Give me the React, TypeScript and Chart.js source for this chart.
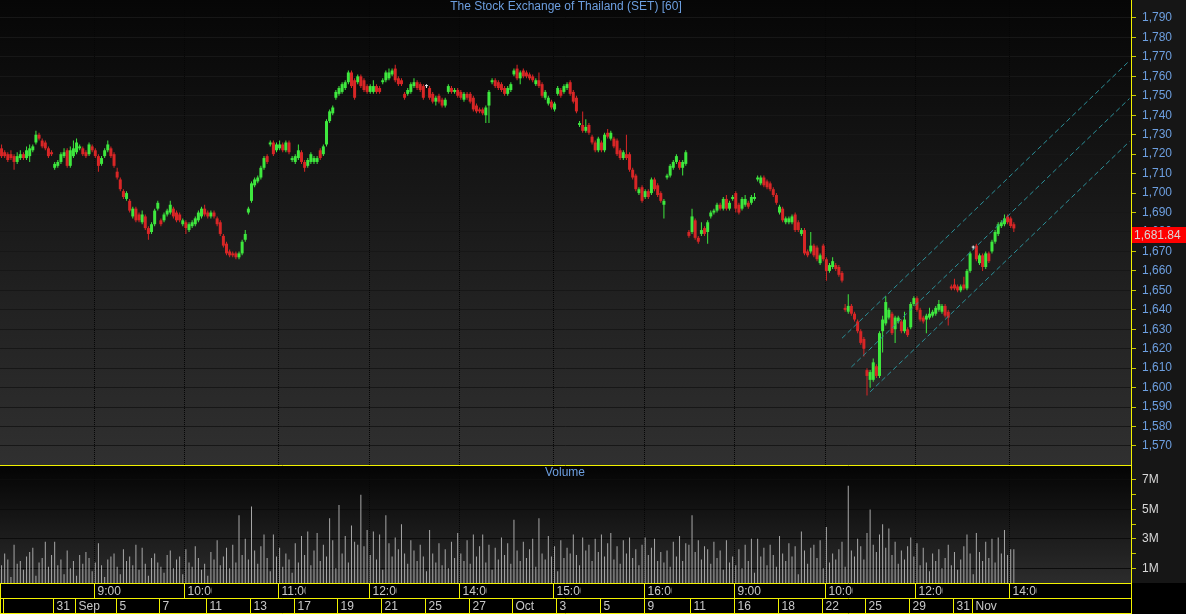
import React, { useEffect, useRef } from "react";
import { Chart, registerables } from "chart.js";

Chart.register(...registerables);

const FONT = '"Liberation Sans", Arial, sans-serif';
const TITLE = "The Stock Exchange of Thailand (SET) [60]";
const VOLUME_TITLE = "Volume";
const TOTAL_SLOTS = 362;
const PRICE_MIN = 1560.23;
const PRICE_MAX = 1799.25;
const VOL_MAX = 7.95;
const LAST_PRICE = 1681.84;
const LAST_PRICE_LABEL = "1,681.84";

const opens = [
  1723,1721,1720,1720,1719,1716,1718,1720,1718,1719,
  1722,1726,1730,1727,1726,1723,1721,1713,1714,1716,
  1719,1722,1714,1719,1721,1723,1723,1721,1720,1724,
  1722,1719,1715,1719,1722,1723,1720,1711,1707,1701,
  1697,1696,1688,1692,1689,1685,1688,1682,1680,1684,
  1692,1686,1686,1689,1690,1692,1690,1689,1684,1685,
  1681,1683,1684,1686,1688,1692,1690,1688,1690,1687,
  1685,1678,1674,1670,1669,1669,1667,1669,1676,1690,
  1696,1704,1706,1708,1713,1719,1725,1726,1722,1723,
  1725,1722,1726,1717,1716,1718,1721,1716,1714,1716,
  1716,1716,1722,1720,1725,1737,1741,1749,1751,1752,
  1754,1757,1762,1758,1757,1760,1758,1755,1752,1752,
  1755,1754,1757,1758,1759,1761,1764,1759,1758,1751,
  1751,1752,1755,1757,1756,1755,1755,1754,1751,1747,
  1750,1748,1745,1752,1754,1752,1753,1752,1748,1751,
  1751,1749,1745,1743,1743,1740,1745,1757,1758,1757,
  1756,1754,1751,1753,1761,1764,1759,1763,1762,1761,
  1760,1756,1758,1756,1749,1746,1747,1743,1751,1753,
  1752,1754,1757,1752,1749,1735,1735,1732,1735,1729,
  1726,1722,1726,1722,1731,1728,1728,1727,1722,1718,
  1720,1720,1712,1709,1700,1703,1698,1701,1700,1707,
  1704,1700,1694,1708,1709,1713,1716,1716,1713,1715,
  1680,1680,1686,1677,1679,1682,1680,1688,1690,1691,
  1694,1692,1697,1692,1697,1700,1694,1692,1694,1695,
  1695,1697,1707,1705,1708,1706,1705,1702,1699,1690,
  1692,1685,1685,1685,1689,1685,1679,1681,1670,1670,
  1673,1672,1664,1673,1666,1660,1662,1663,1662,1659,
  1641,1639,1642,1638,1634,1629,1625,1609,1604,1604,
  1611,1606,1629,1633,1636,1638,1630,1634,1634,1629,
  1630,1631,1643,1646,1640,1636,1635,1636,1637,1638,
  1640,1639,1642,1639,1652,1653,1652,1650,1653,1651,
  1660,1672,1673,1664,1668,1662,1669,1670,1675,1679,
  1683,1684,1688,1687,1684,
];

const highs = [
  1725,1722,1721,1722,1720,1721,1722,1721,1724,1725,
  1725,1732,1731,1728,1727,1724,1722,1716,1717,1721,
  1723,1723,1724,1727,1728,1725,1724,1722,1726,1725,
  1723,1720,1719,1723,1727,1724,1721,1713,1708,1702,
  1701,1697,1693,1693,1690,1691,1689,1683,1685,1692,
  1696,1687,1690,1692,1696,1693,1691,1690,1687,1686,
  1685,1686,1688,1691,1693,1694,1691,1691,1691,1688,
  1686,1679,1675,1671,1670,1670,1670,1676,1681,1693,
  1706,1708,1709,1714,1719,1720,1727,1727,1726,1727,
  1726,1727,1727,1719,1720,1725,1722,1717,1718,1721,
  1719,1719,1723,1725,1738,1743,1745,1753,1755,1757,
  1758,1763,1763,1759,1761,1761,1759,1756,1756,1758,
  1756,1755,1759,1763,1764,1764,1766,1760,1759,1752,
  1754,1757,1759,1758,1757,1756,1756,1755,1752,1750,
  1751,1749,1749,1756,1755,1754,1754,1753,1752,1752,
  1752,1750,1746,1744,1744,1745,1753,1759,1759,1758,
  1757,1755,1755,1757,1764,1766,1763,1764,1763,1762,
  1761,1759,1762,1757,1753,1750,1748,1747,1755,1754,
  1756,1757,1758,1753,1750,1737,1742,1738,1736,1730,
  1727,1729,1727,1731,1733,1732,1729,1728,1723,1722,
  1730,1721,1713,1710,1703,1704,1702,1702,1708,1708,
  1705,1701,1697,1710,1715,1717,1720,1717,1717,1722,
  1681,1692,1687,1678,1685,1683,1686,1691,1692,1695,
  1695,1698,1699,1696,1699,1701,1695,1698,1699,1696,
  1699,1700,1709,1709,1709,1707,1706,1703,1700,1694,
  1693,1688,1688,1689,1690,1686,1682,1682,1671,1680,
  1674,1673,1669,1674,1667,1664,1667,1664,1663,1660,
  1643,1648,1643,1639,1635,1630,1626,1610,1609,1615,
  1612,1629,1637,1647,1641,1639,1637,1637,1635,1639,
  1631,1644,1647,1647,1641,1637,1638,1641,1640,1642,
  1645,1643,1643,1640,1653,1656,1653,1653,1657,1661,
  1670,1673,1674,1669,1669,1670,1670,1676,1681,1685,
  1686,1689,1689,1688,1685,
];

const lows = [
  1718,1718,1716,1717,1712,1715,1717,1717,1717,1716,
  1721,1725,1727,1723,1722,1718,1719,1712,1713,1715,
  1718,1713,1713,1718,1720,1722,1719,1718,1719,1721,
  1718,1711,1714,1718,1721,1718,1713,1707,1701,1697,
  1696,1690,1687,1685,1685,1684,1681,1676,1679,1683,
  1691,1683,1685,1688,1689,1687,1685,1685,1683,1679,
  1680,1682,1683,1685,1687,1688,1687,1687,1687,1683,
  1678,1672,1668,1667,1667,1666,1666,1668,1675,1689,
  1695,1703,1705,1707,1712,1715,1724,1719,1721,1722,
  1721,1721,1720,1716,1715,1717,1715,1711,1713,1715,
  1715,1715,1717,1719,1724,1736,1740,1748,1750,1751,
  1753,1756,1754,1748,1756,1754,1752,1751,1751,1751,
  1751,1751,1756,1757,1758,1760,1757,1755,1755,1748,
  1750,1751,1754,1753,1752,1748,1754,1748,1746,1745,
  1746,1744,1744,1751,1751,1751,1749,1748,1747,1748,
  1746,1742,1741,1741,1740,1736,1736,1756,1754,1753,
  1752,1750,1750,1752,1760,1758,1756,1759,1759,1758,
  1757,1755,1754,1749,1748,1745,1743,1742,1750,1749,
  1751,1753,1750,1746,1741,1734,1731,1731,1730,1725,
  1721,1721,1721,1721,1728,1727,1723,1719,1717,1717,
  1717,1711,1707,1701,1699,1695,1697,1697,1699,1701,
  1698,1695,1687,1707,1708,1712,1715,1712,1709,1714,
  1677,1679,1676,1674,1678,1678,1674,1687,1689,1690,
  1691,1691,1691,1691,1696,1690,1689,1691,1693,1692,
  1694,1696,1706,1704,1703,1702,1701,1698,1694,1689,
  1685,1684,1684,1684,1680,1680,1678,1668,1667,1669,
  1667,1665,1663,1665,1655,1659,1661,1660,1657,1654,
  1639,1638,1637,1634,1628,1622,1616,1596,1600,1603,
  1605,1605,1618,1632,1635,1627,1623,1633,1628,1628,
  1626,1630,1642,1639,1634,1633,1628,1635,1636,1637,
  1639,1638,1636,1632,1650,1650,1649,1649,1650,1650,
  1659,1671,1665,1663,1660,1661,1664,1669,1674,1678,
  1682,1683,1684,1682,1680,
];

const closes = [
  1719,1719,1717,1718,1716,1719,1720,1718,1722,1723,
  1724,1730,1728,1724,1723,1719,1720,1715,1716,1720,
  1721,1714,1722,1723,1726,1724,1720,1719,1725,1722,
  1719,1714,1718,1722,1725,1719,1714,1708,1702,1698,
  1700,1691,1692,1686,1686,1689,1682,1679,1684,1691,
  1695,1684,1689,1691,1694,1688,1686,1686,1686,1682,
  1684,1685,1687,1690,1692,1689,1688,1690,1688,1684,
  1679,1673,1669,1668,1668,1667,1669,1675,1679,1692,
  1705,1707,1708,1713,1718,1716,1726,1720,1725,1725,
  1722,1726,1721,1718,1719,1722,1716,1713,1717,1720,
  1718,1718,1718,1724,1737,1742,1744,1752,1754,1756,
  1757,1762,1755,1749,1760,1755,1753,1752,1755,1755,
  1752,1752,1758,1762,1762,1763,1758,1756,1756,1749,
  1753,1756,1757,1754,1753,1749,1755,1749,1747,1749,
  1747,1745,1748,1755,1752,1753,1750,1749,1751,1749,
  1747,1743,1742,1742,1741,1744,1752,1758,1755,1754,
  1753,1751,1754,1756,1763,1759,1762,1760,1760,1759,
  1758,1758,1755,1750,1752,1749,1744,1746,1754,1750,
  1755,1756,1751,1747,1742,1736,1732,1734,1731,1726,
  1722,1728,1722,1730,1729,1731,1724,1720,1718,1721,
  1718,1712,1708,1702,1702,1696,1701,1698,1707,1702,
  1699,1696,1696,1709,1714,1716,1719,1713,1716,1721,
  1678,1688,1677,1675,1681,1679,1685,1690,1691,1694,
  1692,1697,1692,1695,1698,1692,1690,1697,1697,1693,
  1698,1698,1708,1708,1704,1703,1702,1699,1695,1693,
  1686,1687,1687,1688,1681,1681,1681,1669,1668,1673,
  1668,1666,1668,1666,1660,1663,1665,1661,1658,1655,
  1640,1642,1638,1635,1629,1623,1620,1606,1608,1613,
  1606,1628,1635,1644,1640,1628,1636,1636,1629,1635,
  1627,1643,1646,1640,1635,1634,1637,1638,1639,1641,
  1643,1642,1637,1636,1651,1651,1650,1652,1651,1660,
  1669,1672,1666,1668,1662,1669,1665,1675,1680,1684,
  1685,1687,1685,1683,1681.84,
];

// volume in millions of shares
const volumes = [
  1.2,2.0,1.6,0.4,2.6,1.3,1.5,0.9,1.8,2.1,2.4,0.5,1.4,1.7,2.8,1.1,1.9,
  2.8,1.2,1.6,0.6,2.2,1.0,1.5,
  0.5,1.9,1.3,2.1,1.7,0.8,1.4,
  2.7,1.2,0.4,1.6,1.8,2.0,1.1,
  0.6,2.3,1.5,1.8,1.2,2.6,0.9,
  2.4,1.3,0.5,1.7,2.0,1.4,1.1,
  0.7,1.9,2.2,1.0,1.6,1.8,0.6,
  2.3,1.4,1.1,2.5,1.7,0.9,1.3,
  0.5,2.1,1.6,2.9,1.2,1.8,2.4,
  1.0,2.6,1.4,4.6,1.9,3.0,1.6,
  5.2,2.2,1.3,2.5,3.3,1.7,0.8,
  3.3,1.8,2.4,1.1,2.0,1.6,0.7,
  2.7,1.4,3.2,1.9,3.5,1.2,2.2,
  3.4,1.5,2.6,1.8,4.4,2.9,1.0,
  5.3,2.0,3.2,1.4,3.9,2.8,2.6,
  6.0,2.5,3.6,1.9,3.5,1.6,3.3,
  0.9,4.6,2.7,1.8,3.1,2.3,4.0,
  2.0,1.3,2.9,2.2,1.5,2.6,1.8,
  0.8,3.6,2.0,1.4,2.7,1.2,2.3,
  1.0,2.8,1.7,3.4,2.0,1.5,2.9,
  1.3,3.3,1.8,2.5,3.3,1.4,2.6,
  0.9,2.4,1.6,3.1,1.9,2.7,1.3,
  4.3,2.2,1.5,2.8,1.7,2.3,3.0,
  1.1,4.4,2.0,1.6,3.2,1.8,2.5,
  0.8,2.9,1.7,2.4,2.0,3.3,1.9,
  1.2,3.1,2.2,2.6,1.5,3.0,2.1,
  3.3,1.8,2.7,3.4,1.6,2.5,1.3,
  2.9,2.0,3.1,1.7,2.3,1.2,2.6,
  3.1,1.9,2.4,3.0,1.5,2.1,1.4,
  2.2,1.1,2.8,1.8,3.2,1.5,2.7,
  2.6,4.6,2.1,2.9,1.6,2.5,2.3,
  1.3,2.8,1.7,2.2,0.9,2.9,1.4,
  1.8,1.2,2.3,1.0,2.6,1.5,3.0,
  0.7,3.0,1.8,2.4,1.2,2.6,1.9,
  1.1,3.2,2.0,1.5,2.7,1.8,2.5,
  0.6,3.5,2.2,1.3,2.4,2.6,1.7,
  2.9,1.0,3.8,1.4,2.0,1.6,2.3,
  2.8,1.1,6.6,2.2,1.8,3.0,2.5,
  1.6,3.4,5.0,2.6,2.1,3.3,4.0,
  2.4,3.7,1.9,2.8,1.3,2.2,1.6,
  2.5,3.1,1.8,2.7,1.2,2.4,1.4,
  0.8,2.0,1.5,2.3,1.0,1.7,2.6,
  1.2,2.1,0.9,1.6,2.5,3.3,2.0,
  0.6,3.4,2.1,1.5,2.8,1.7,3.0,
  1.4,3.1,2.0,3.6,1.9,2.3,2.3,
];

const priceTicks = [
  1570,1580,1590,1600,1610,1620,1630,1640,1650,1660,1670,1680,
  1690,1700,1710,1720,1730,1740,1750,1760,1770,1780,1790,
];
const volumeTicks = [1, 2, 3, 4, 5, 6, 7];
const volumeTickLabels = ["1M", "", "3M", "", "5M", "", "7M"];

const hourLabels = ["9:00","10:00","11:00","12:00","14:00","15:00","16:00","9:00","10:00","12:00","14:00"];
const hourSlots = [30, 59, 89, 118, 147, 177, 206, 235, 264, 293, 323];
const dateLabels = ["31","Sep","5","7","11","13","17","19","21","25","27","Oct","3","5","9","11","16","18","22","25","29","31","Nov"];
const dateSlots = [17, 24, 37, 51, 66, 80, 94, 108, 122, 136, 150, 164, 178, 192, 206, 221, 235, 249, 263, 277, 291, 305, 311];

// trend channel (slot index, price)
const channelUpper = [[269, 1625.4], [361, 1768.0]];
const channelMiddle = [[272, 1610.6], [361, 1748.6]];
const channelLower = [[278, 1597.8], [361, 1726.5]];

const UP = "#3ee83e";
const DOWN = "#d82626";
const DOJI = "#f0f0f0";
const YELLOW = "#f2f200";
const AXIS_BG = "#161616";
const GRID = "#171717";
const BLUE_TEXT = "#6d9fe0";
const ROW_TEXT = "#c8c8c8";

const slotLabels = Array.from({ length: TOTAL_SLOTS }, (_, i) => String(i));

function candleColor(i: number) {
  if (closes[i] > opens[i]) return UP;
  if (closes[i] < opens[i]) return DOWN;
  return DOJI;
}

function slotLeft(chart: any, idx: number) {
  const xs = chart.scales.x;
  const w = xs.getPixelForValue(1) - xs.getPixelForValue(0);
  return Math.round(xs.getPixelForValue(idx) - w / 2) + 0.5;
}

function drawVerticalGrid(chart: any) {
  const { ctx, chartArea: a } = chart;
  ctx.save();
  ctx.strokeStyle = "#050505";
  ctx.lineWidth = 1;
  ctx.setLineDash([1, 1]);
  hourSlots.forEach((s) => {
    const x = slotLeft(chart, s);
    ctx.beginPath();
    ctx.moveTo(x, a.top);
    ctx.lineTo(x, a.bottom);
    ctx.stroke();
  });
  ctx.restore();
}

function paintPanel(chart: any, top: string, bottom: string) {
  const { ctx, chartArea: a, width, height } = chart;
  ctx.save();
  ctx.fillStyle = "#000";
  ctx.fillRect(0, 0, width, height);
  ctx.fillStyle = AXIS_BG;
  ctx.fillRect(a.right, 0, width - a.right, a.bottom);
  const g = ctx.createLinearGradient(0, a.top, 0, a.bottom);
  g.addColorStop(0, top);
  g.addColorStop(1, bottom);
  ctx.fillStyle = g;
  ctx.fillRect(a.left, a.top, a.right - a.left, a.bottom - a.top);
  ctx.restore();
}

const fitAxis = (s: any) => {
  s.width = 55;
  s.paddingTop = 0;
  s.paddingBottom = 0;
};

const pricePlugin = {
  id: "priceDeco",
  beforeDraw(chart: any) {
    paintPanel(chart, "#060606", "#303030");
  },
  beforeDatasetsDraw(chart: any) {
    drawVerticalGrid(chart);
  },
  afterDraw(chart: any) {
    const { ctx, chartArea: a, width } = chart;
    ctx.save();
    ctx.font = `12px ${FONT}`;
    ctx.fillStyle = BLUE_TEXT;
    ctx.textAlign = "center";
    ctx.textBaseline = "middle";
    ctx.fillText(TITLE, 566, 7);
    const y = chart.scales.y.getPixelForValue(LAST_PRICE);
    const top = Math.round(y) - 1;
    ctx.fillStyle = "#ff0000";
    ctx.fillRect(a.right + 1, top, width - a.right - 1, 16);
    ctx.fillStyle = "#d8d8d8";
    ctx.textAlign = "left";
    ctx.fillText(LAST_PRICE_LABEL, a.right + 3, top + 8.5);
    ctx.restore();
  },
};

const volumePlugin = {
  id: "volumeDeco",
  beforeDraw(chart: any) {
    paintPanel(chart, "#040404", "#2c2c2c");
  },
  beforeDatasetsDraw(chart: any) {
    drawVerticalGrid(chart);
  },
  afterDraw(chart: any) {
    const { ctx, chartArea: a, width, height } = chart;
    ctx.save();
    ctx.strokeStyle = YELLOW;
    ctx.lineWidth = 1;
    ctx.beginPath();
    ctx.moveTo(0, 0.5);
    ctx.lineTo(a.right, 0.5);
    ctx.stroke();

    ctx.font = `12px ${FONT}`;
    ctx.fillStyle = BLUE_TEXT;
    ctx.textAlign = "center";
    ctx.textBaseline = "middle";
    ctx.fillText(VOLUME_TITLE, 565, 8);

    const rowTop = a.bottom;
    ctx.fillStyle = "#000";
    ctx.fillRect(0, rowTop, width, height - rowTop);
    const r1 = rowTop + 0.5;
    const r2 = rowTop + 15.5;
    const r3 = rowTop + 30.5;
    const right = a.right + 0.5;
    ctx.strokeStyle = YELLOW;
    ctx.beginPath();
    [r1, r2, r3].forEach((yy) => {
      ctx.moveTo(0, yy);
      ctx.lineTo(right, yy);
    });
    ctx.moveTo(0.5, r1);
    ctx.lineTo(0.5, r3);
    ctx.moveTo(right, 0);
    ctx.lineTo(right, height);
    hourSlots.forEach((s) => {
      const x = slotLeft(chart, s);
      ctx.moveTo(x, r1);
      ctx.lineTo(x, r2);
    });
    ctx.moveTo(3.5, r2);
    ctx.lineTo(3.5, r3);
    dateSlots.forEach((s) => {
      const x = slotLeft(chart, s);
      ctx.moveTo(x, r2);
      ctx.lineTo(x, r3);
    });
    ctx.stroke();

    ctx.fillStyle = ROW_TEXT;
    ctx.textAlign = "left";
    hourSlots.forEach((s, k) => {
      const x = slotLeft(chart, s);
      ctx.save();
      ctx.beginPath();
      ctx.rect(x, r1, 27, 15);
      ctx.clip();
      ctx.fillText(hourLabels[k], x + 3, r1 + 8);
      ctx.restore();
    });
    dateSlots.forEach((s, k) => {
      const x = slotLeft(chart, s);
      ctx.fillText(dateLabels[k], x + 3, r2 + 8);
    });
    ctx.restore();
  },
};

export default function App() {
  const priceRef = useRef<HTMLCanvasElement | null>(null);
  const volRef = useRef<HTMLCanvasElement | null>(null);

  useEffect(() => {
    if (!priceRef.current || !volRef.current) return;
    Chart.defaults.font.family = FONT;

    const colors = opens.map((_, i) => candleColor(i));
    const line = (pts: number[][]) => ({
      type: "line" as const,
      data: pts.map(([s, p]) => ({ x: String(s), y: p })),
      borderColor: "#2b8f98",
      borderWidth: 1,
      borderDash: [5, 3],
      pointRadius: 0,
      fill: false,
      order: 0,
    });

    const priceChart = new Chart(priceRef.current, {
      type: "bar",
      data: {
        labels: slotLabels,
        datasets: [
          {
            type: "bar",
            data: lows.map((l, i) => [l, highs[i]]),
            backgroundColor: colors,
            barThickness: 1,
            inflateAmount: 0,
            grouped: false,
            order: 2,
          } as any,
          {
            type: "bar",
            data: opens.map((o, i) => [o, closes[i]]),
            backgroundColor: colors,
            barThickness: 3,
            minBarLength: 1,
            inflateAmount: 0,
            grouped: false,
            order: 1,
          } as any,
          line(channelUpper) as any,
          line(channelMiddle) as any,
          line(channelLower) as any,
        ],
      },
      options: {
        animation: false,
        responsive: false,
        maintainAspectRatio: false,
        events: [],
        layout: { padding: 0 },
        plugins: { legend: { display: false }, tooltip: { enabled: false } },
        scales: {
          x: { display: false, offset: true },
          y: {
            position: "right",
            min: PRICE_MIN,
            max: PRICE_MAX,
            afterFit: fitAxis,
            afterBuildTicks: (s: any) => {
              s.ticks = priceTicks.map((v) => ({ value: v }));
            },
            ticks: {
              color: BLUE_TEXT,
              font: { family: FONT, size: 12 },
              padding: 6,
              callback: (v: any) => Number(v).toLocaleString("en-US"),
            },
            grid: { color: GRID, tickColor: "#c8c800", tickLength: 5 },
            border: { color: YELLOW, width: 1 },
          },
        },
      } as any,
      plugins: [pricePlugin],
    });

    const volChart = new Chart(volRef.current, {
      type: "bar",
      data: {
        labels: slotLabels,
        datasets: [
          {
            data: volumes.map((v) => v),
            backgroundColor: "#a8a8a8",
            barThickness: 1,
            inflateAmount: 0,
          } as any,
        ],
      },
      options: {
        animation: false,
        responsive: false,
        maintainAspectRatio: false,
        events: [],
        layout: { padding: { top: 1, bottom: 31, left: 0, right: 0 } },
        plugins: { legend: { display: false }, tooltip: { enabled: false } },
        scales: {
          x: { display: false, offset: true },
          y: {
            position: "right",
            min: 0,
            max: VOL_MAX,
            afterFit: fitAxis,
            afterBuildTicks: (s: any) => {
              s.ticks = volumeTicks.map((v) => ({ value: v }));
            },
            ticks: {
              color: "#d8d8d8",
              font: { family: FONT, size: 12 },
              padding: 6,
              callback: (v: any) => volumeTickLabels[volumeTicks.indexOf(Number(v))] ?? "",
            },
            grid: {
              color: (c: any) =>
                c.tick && volumeTickLabels[volumeTicks.indexOf(c.tick.value)] ? "#0c0c0c" : "rgba(0,0,0,0)",
              tickColor: "#c8c800",
              tickLength: 5,
            },
            border: { color: YELLOW, width: 1 },
          },
        },
      } as any,
      plugins: [volumePlugin],
    });

    return () => {
      priceChart.destroy();
      volChart.destroy();
    };
  }, []);

  return (
    <div
      style={{
        position: "fixed",
        left: 0,
        top: 0,
        width: 1186,
        height: 614,
        background: "#000",
        overflow: "hidden",
      }}
    >
      <canvas
        ref={priceRef}
        width={1186}
        height={465}
        style={{ position: "absolute", left: 0, top: 0, width: 1186, height: 465 }}
      />
      <canvas
        ref={volRef}
        width={1186}
        height={149}
        style={{ position: "absolute", left: 0, top: 465, width: 1186, height: 149 }}
      />
    </div>
  );
}
